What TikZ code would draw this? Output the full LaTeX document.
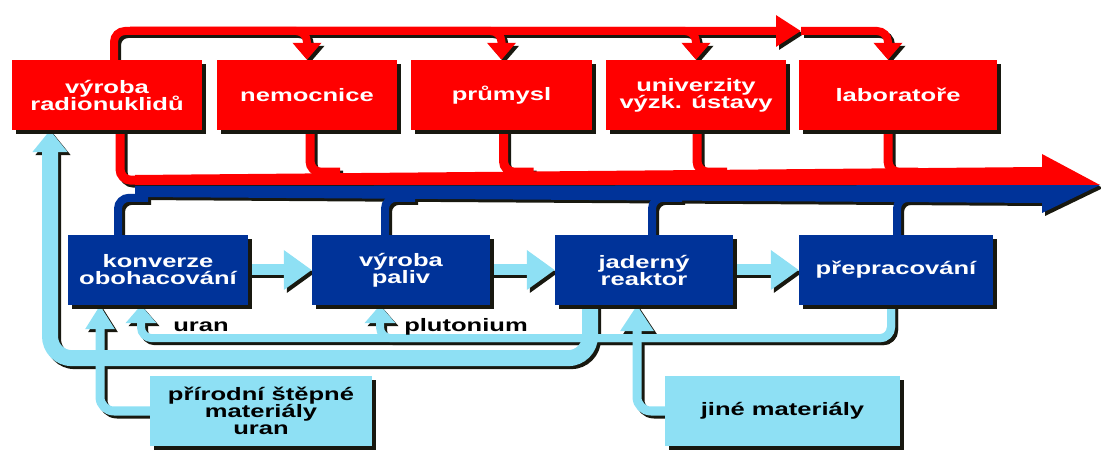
\documentclass[tikz,border=0pt]{standalone}
\usepackage{fontspec}
\newfontfamily\diafont{Liberation Sans}[FakeStretch=1.42]
\usetikzlibrary{arrows.meta,shadows,backgrounds}

\definecolor{boxred}{HTML}{FF0000}
\definecolor{boxblue}{HTML}{003399}
\definecolor{sky}{HTML}{8EE0F4}
\definecolor{shadowc}{HTML}{18180F}

% lines of a box label, centred, tight spacing
\newcommand{\stacked}[1]{\vbox{\lineskiplimit=-100pt\baselineskip=17pt
  \halign{\hfil##\hfil\cr#1\crcr}}}

\tikzset{
  stage/.style={rectangle, minimum height=70pt, inner sep=0pt,
    font=\diafont\bfseries\fontsize{18}{17}\selectfont,
    drop shadow={shadow xshift=4pt, shadow yshift=-4pt, fill=shadowc, opacity=1}},
  redbox/.style={stage, fill=boxred, text=white},
  bluebox/.style={stage, fill=boxblue, text=white},
  skybox/.style={stage, fill=sky, text=black},
  lbl/.style={font=\diafont\bfseries\fontsize{18}{17}\selectfont, anchor=base, inner sep=0pt},
  rail/.style={line width=8pt, rounded corners=11pt},
}

\begin{document}
\begin{tikzpicture}[x=1pt, y=-1pt]
  \useasboundingbox (0,0) rectangle (1101,454);

  % red row
  \node[redbox, minimum width=190pt] (rad)  at (107,95)   {\stacked{výroba\cr radionuklidů}};
  \node[redbox, minimum width=180pt] (nem)  at (307,95)   {\stacked{nemocnice}};
  \node[redbox, minimum width=181pt] (prum) at (501.5,95) {\stacked{průmysl}};
  \node[redbox, minimum width=180pt] (univ) at (696,95)   {\stacked{univerzity\cr výzk. ústavy}};
  \node[redbox, minimum width=198pt] (lab)  at (898,95)   {\stacked{laboratoře}};

  % blue row
  \node[bluebox, minimum width=180pt] (conv)  at (158,270) {\stacked{konverze\cr obohacování}};
  \node[bluebox, minimum width=178pt] (fuel)  at (401,270) {\stacked{výroba\cr paliv}};
  \node[bluebox, minimum width=178pt] (reac)  at (644,270) {\stacked{jaderný\cr reaktor}};
  \node[bluebox, minimum width=194pt] (repro) at (896,270) {\stacked{přepracování}};

  % inputs
  \node[skybox, minimum width=222pt] (prir) at (261,411)   {\stacked{přírodní štěpné\cr materiály\cr uran}};
  \node[skybox, minimum width=235pt] (jine) at (782.5,411) {\stacked{jiné materiály}};

  \node[lbl] (uranlbl) at (201,332) {uran};
  \node[lbl] (plulbl)  at (466,332) {plutonium};

  \coordinate (railL)   at (130,31);
  \coordinate (railtip) at (801,31);
  \coordinate (bigtip)  at (1100,185);

  \begin{scope}[on background layer]
  \foreach \off/\colR/\colB/\colS in {3pt/shadowc/shadowc/shadowc, 0pt/boxred/boxblue/sky} {
   \begin{scope}[transform canvas={shift={(\off,-\off)}}]
    % red rails
    \draw[rail, draw=\colR, -{Triangle[width=30pt,length=25pt]}] ([xshift=7pt]rad.north) |- (railtip);
    \draw[rail, draw=\colR, -{Triangle[width=28pt,length=17pt]}] (railtip) -| ([xshift=-10pt]lab.north);
    \foreach \b in {nem,prum,univ}
      \draw[rail, draw=\colR, -{Triangle[width=28pt,length=17pt]}] (railL) -| (\b.north);
    \foreach \b/\dx/\dy in {rad/13/50, nem/3/42, prum/2/42, univ/1/42, lab/-10/42}
      \draw[rail, line width=9pt, draw=\colR] ([xshift=\dx pt]\b.south) -- ++(0,\dy) -- ++(30,0);
    \fill[fill=\colR] (135,175) -- (1042,167) -- (1042,154) -- (bigtip) -- (135,185) -- cycle;
    % blue rails
    \foreach \b/\dx in {conv/-40, fuel/-16, reac/8, repro/1}
      \draw[rail, draw=\colB] ([xshift=\dx pt]\b.north) -- ++(0,-37) -- ++(30,0);
    \fill[fill=\colB] (135,186) -- (bigtip) -- (1042,213) -- (1042,203) -- (135,197) -- cycle;
    % light blue flows
    \draw[rail, line width=9pt, draw=\colS, rounded corners=14pt, -{Triangle[width=28pt,length=24pt]}]
      (prir.west) -| ([xshift=-58pt]conv.south);
    \draw[rail, line width=9pt, draw=\colS, rounded corners=14pt, -{Triangle[width=32pt,length=26pt]}]
      (jine.west) -| ([xshift=-7pt]reac.south);
    \draw[rail, line width=8pt, draw=\colS, -{Triangle[width=30pt,length=18pt]}]
      ([xshift=-5pt]repro.south) -- ++(0,33) -| ([xshift=-17pt]conv.south);
    \draw[rail, line width=8pt, draw=\colS, -{Triangle[width=30pt,length=18pt]}]
      ([xshift=-5pt]repro.south) -- ++(0,33) -| ([xshift=-21pt]fuel.south);
    \draw[rail, line width=16pt, draw=\colS, rounded corners=22pt, -{Triangle[width=34pt,length=22pt]}]
      ([xshift=-54pt]reac.south) -- ++(0,53) -| ([xshift=-57pt]rad.south);
    \draw[rail, line width=11pt, draw=\colS, -{Triangle[width=38pt,length=28pt]}] (conv.east) -- (fuel.west);
    \draw[rail, line width=11pt, draw=\colS, -{Triangle[width=38pt,length=28pt]}] (fuel.east) -- (reac.west);
    \draw[rail, line width=11pt, draw=\colS, -{Triangle[width=38pt,length=28pt]}] (reac.east) -- (repro.west);
   \end{scope}
  }
  \end{scope}
\end{tikzpicture}
\end{document}
